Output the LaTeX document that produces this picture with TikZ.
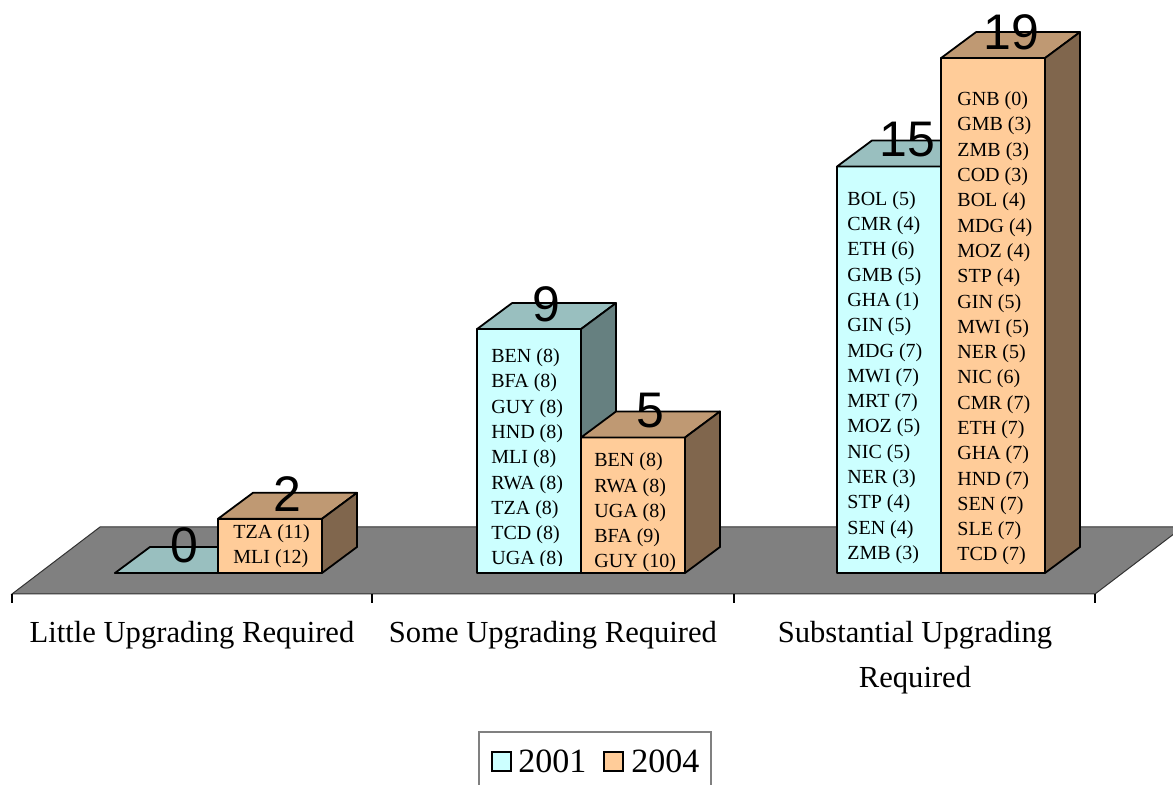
\documentclass[tikz,border=0pt]{standalone}
\usepackage{fontspec}
\setmainfont{Liberation Serif}
\newfontfamily\numfont{Liberation Sans}

\definecolor{cyanfront}{HTML}{CCFFFF}
\definecolor{cyantop}{HTML}{99BFBF}
\definecolor{cyanside}{HTML}{668080}
\definecolor{orfront}{HTML}{FFCC99}
\definecolor{ortop}{HTML}{BF9973}
\definecolor{orside}{HTML}{80664D}
\definecolor{floorgray}{HTML}{808080}

\tikzset{
  face/.style={draw=black, line width=0.9pt, line join=round},
  count/.style={font=\numfont\fontsize{25}{25}\selectfont, anchor=base, inner sep=0pt},
  names/.style={font=\fontsize{10}{12.65}\selectfont, align=left, anchor=base west, inner sep=0pt},
  catlabel/.style={font=\fontsize{15.3}{22.5}\selectfont, align=center, anchor=base, inner sep=0pt},
  keytext/.style={font=\fontsize{17}{17}\selectfont, anchor=base west, inner sep=0pt},
}

% #1 left edge, #2 value, #3 front, #4 top, #5 side
\newcommand{\barbox}[5]{%
  \pgfmathsetmacro{\bartop}{573-27.1*#2}
  \filldraw[face, fill=#3] (#1,573) rectangle (#1+104,\bartop);
  \filldraw[face, fill=#4] (#1,\bartop) -- ++(35,-26) -- ++(104,0) -- ++(-35,26) -- cycle;
  \filldraw[face, fill=#5] (#1+104,\bartop) -- ++(35,-26) -- (#1+139,547) -- (#1+104,573) -- cycle;
}

\begin{document}
\begin{tikzpicture}[x=0.5pt, y=-0.5pt]
\useasboundingbox (0,0) rectangle (1173,785);

% floor
\begin{scope}
  \clip (0,0) rectangle (1173,785);
  \filldraw[fill=floorgray, draw=black!80, line width=0.5pt] (12,594) -- (1095,594) -- (1183,527) -- (100,527) -- cycle;
\end{scope}
\foreach \x in {12,372,734,1095}
  \draw[line width=0.6pt] (\x,594) -- (\x,603);

% bars
\barbox{115}{0}{cyanfront}{cyantop}{cyanside}
\barbox{218}{2}{orfront}{ortop}{orside}
\barbox{477}{9}{cyanfront}{cyantop}{cyanside}
\barbox{581}{5}{orfront}{ortop}{orside}
\barbox{837}{15}{cyanfront}{cyantop}{cyanside}
\barbox{941}{19}{orfront}{ortop}{orside}

% countries (base = last line)
\node[names] (lowA) at (233,564) {TZA (11)\\MLI (12)};
\begin{scope}
  \clip (477,329) rectangle (581,566);
  \node[names] (midC) at (491,565) {BEN (8)\\BFA (8)\\GUY (8)\\HND (8)\\MLI (8)\\RWA (8)\\TZA (8)\\TCD (8)\\UGA (8)};
\end{scope}
\node[names] (midA) at (594,568) {BEN (8)\\RWA (8)\\UGA (8)\\BFA (9)\\GUY (10)};
\node[names] (highC) at (847,559.5) {BOL (5)\\CMR (4)\\ETH (6)\\GMB (5)\\GHA (1)\\GIN (5)\\MDG (7)\\MWI (7)\\MRT (7)\\MOZ (5)\\NIC (5)\\NER (3)\\STP (4)\\SEN (4)\\ZMB (3)};
\node[names] (highA) at (957,561) {GNB (0)\\GMB (3)\\ZMB (3)\\COD (3)\\BOL (4)\\MDG (4)\\MOZ (4)\\STP (4)\\GIN (5)\\MWI (5)\\NER (5)\\NIC (6)\\CMR (7)\\ETH (7)\\GHA (7)\\HND (7)\\SEN (7)\\SLE (7)\\TCD (7)};

% totals
\node[count] (n0) at (184,563) {0};
\node[count] (n2) at (287,512) {2};
\node[count] (n9) at (546,322) {9};
\node[count] (n5) at (650,428) {5};
\node[count] (n15) at (907,157) {15};
\node[count] (n19) at (1011,50) {19};

% categories
\node[catlabel] (catLow) at (192,643) {Little Upgrading Required};
\node[catlabel] (catSome) at (553,643) {Some Upgrading Required};
\node[catlabel] (catHigh) at (915,688) {Substantial Upgrading\\Required};

% legend
\begin{scope}
  \clip (0,0) rectangle (1173,785);
  \draw[draw=gray, line width=0.6pt] (479,732) rectangle (711,800);
\end{scope}
\filldraw[fill=cyanfront, line width=0.8pt] (492,752) rectangle (511,771);
\node[keytext] (key1) at (518,772) {2001};
\filldraw[fill=orfront, line width=0.8pt] (604,752) rectangle (623,771);
\node[keytext] (key2) at (631,772) {2004};
\end{tikzpicture}
\end{document}
